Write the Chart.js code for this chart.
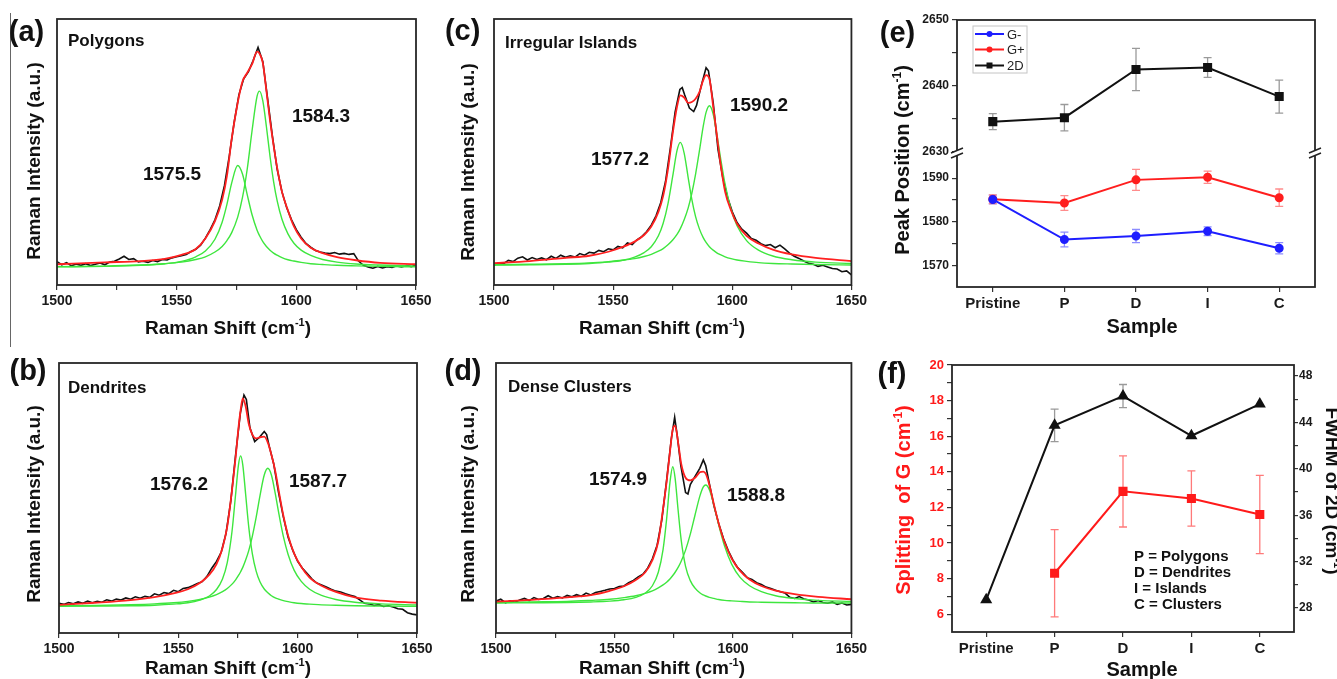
<!DOCTYPE html>
<html>
<head>
<meta charset="utf-8">
<title>Raman G and 2D band analysis</title>
<script src="https://cdn.jsdelivr.net/npm/chart.js@4.4.1/dist/chart.umd.min.js"></script>
<style>
  html, body { margin: 0; padding: 0; background: #fff; }
  #page { position: relative; width: 1337px; height: 679px; overflow: hidden; background: #fff; }
  #page canvas { position: absolute; }
  #edge { position: absolute; left: 10px; top: 13px; width: 1px; height: 334px; background: #666; }
</style>
</head>
<body>
<div id="page">
  <div id="edge"></div>
  <canvas id="chartA" width="440" height="340" style="left:0px;top:0px"></canvas>
  <canvas id="chartC" width="440" height="340" style="left:430px;top:0px"></canvas>
  <canvas id="chartB" width="440" height="339" style="left:0px;top:340px"></canvas>
  <canvas id="chartD" width="440" height="339" style="left:430px;top:340px"></canvas>
  <canvas id="chartE" width="477" height="340" style="left:860px;top:0px"></canvas>
  <canvas id="chartF" width="477" height="339" style="left:860px;top:340px"></canvas>
</div>
<script>
// ---- spectra (intensity in arbitrary units, 0..100 = bottom..top of plot) ----

// (a) Polygons
const polyFitX = [1500,1520,1535,1545,1552,1558,1562,1566,1569,1571,1573,1575.5,1577.5,1579.5,1581.5,1583.6,1584.6,1586,1587.5,1589,1590.5,1592,1594,1596.5,1599,1602,1606,1611,1617,1625,1635,1650];
const polyFit = [7.8,8.5,9.0,9.8,11.3,13.5,17.5,24.0,32.0,41.0,55.0,68.5,76.5,79.8,83.0,87.7,87.0,83.5,73.0,62.0,52.5,44.0,35.0,28.0,22.0,17.5,14.0,12.0,10.5,9.3,8.3,7.8];
const polyPeakLo = [6.8,7.0,7.4,8.0,8.9,10.6,12.8,17.2,23.6,30.3,38.4,44.9,41.7,33.9,26.4,20.6,18.6,16.3,14.5,13.1,12.0,11.2,10.3,9.5,9.0,8.5,8.0,7.7,7.4,7.2,7.0,6.8];
const polyPeakHi = [6.9,7.1,7.5,8.0,8.6,9.6,10.6,12.4,14.5,16.7,19.7,25.5,32.9,43.7,58.0,71.0,72.9,69.2,59.5,48.4,38.9,31.6,24.7,19.2,15.7,13.1,11.1,9.6,8.6,7.9,7.5,7.1];
const polyRawX = [1500,1502,1504,1506,1508,1510,1512,1514,1516,1518,1520,1522,1524,1526,1528,1530,1532,1534,1536,1538,1540,1542,1544,1546,1548,1550,1552,1554,1556,1558,1560,1562,1564,1566,1568,1570,1572,1574,1576,1578,1580,1582,1584,1586,1588,1590,1592,1594,1596,1598,1600,1602,1604,1606,1608,1610,1612,1614,1616,1618,1620,1622,1624,1626,1628,1630,1632,1634,1636,1638,1640,1642,1644,1646,1648,1650];
const polyRaw = [8.8,7.6,8.4,7.2,7.9,7.4,8.0,7.3,7.8,8.3,7.6,8.6,8.9,9.8,10.8,9.6,9.9,8.7,8.9,8.5,9.2,8.8,9.6,9.4,10.2,10.6,11.0,11.5,12.6,13.4,15.0,17.6,20.8,24.5,29.8,37.5,48.5,61.0,71.5,77.5,80.2,84.5,89.3,84.0,70.0,56.0,43.5,35.0,29.0,24.5,20.8,18.0,15.6,14.2,13.0,12.4,12.0,11.8,12.2,11.6,11.9,11.5,11.8,9.0,7.4,6.8,6.3,7.0,6.4,6.9,6.6,7.2,6.8,7.3,6.9,7.5];

// (b) Dendrites
const dendFitX = [1500,1515,1530,1540,1548,1554,1559,1563,1566,1568.5,1570.5,1572.5,1574,1575.2,1576.1,1577,1578.2,1579.5,1581,1582.6,1584.2,1586,1587.5,1589,1590.6,1592.2,1594,1596,1598.5,1601.5,1605,1610,1616,1624,1635,1650];
const dendFit = [10.4,11.2,12.2,13.3,14.7,16.2,18.5,21.6,25.5,31.5,39.5,53.0,65.0,76.0,82.5,86.9,84.0,77.5,73.5,72.1,72.5,72.7,70.5,66.0,60.0,52.0,43.5,36.0,29.5,24.5,20.5,17.5,15.2,13.2,12.0,11.2];
const dendPeakLo = [9.9,10.0,10.1,10.3,10.7,11.2,12.2,13.7,16.1,20.0,26.1,37.7,51.4,62.3,65.6,62.3,51.4,39.3,29.4,22.9,19.0,16.3,14.9,13.8,13.0,12.5,12.0,11.6,11.2,10.9,10.7,10.4,10.3,10.1,10.0,9.9];
const dendPeakHi = [10.1,10.2,10.5,10.8,11.2,11.7,12.4,13.3,14.2,15.3,16.5,18.1,19.7,21.3,22.7,24.3,27.0,30.5,35.8,42.8,50.8,58.5,61.0,58.5,51.7,43.8,35.8,29.1,23.3,19.1,16.2,13.9,12.4,11.4,10.8,10.4];
const dendRawX = [1500,1502,1504,1506,1508,1510,1512,1514,1516,1518,1520,1522,1524,1526,1528,1530,1532,1534,1536,1538,1540,1542,1544,1546,1548,1550,1552,1554,1556,1558,1560,1562,1564,1566,1568,1570,1572,1574,1576,1577.5,1578.5,1580,1582,1584,1586,1587,1588,1590,1592,1594,1596,1598,1600,1602,1604,1606,1608,1610,1612,1614,1616,1618,1620,1622,1624,1626,1628,1630,1632,1634,1636,1638,1640,1642,1644,1646,1648,1650];
const dendRaw = [11.0,10.6,11.3,10.8,11.5,11.0,11.8,11.2,11.7,11.4,12.3,11.8,12.6,12.2,13.0,12.5,13.4,12.9,13.6,13.2,14.5,14.0,15.0,14.6,15.8,15.3,16.5,16.8,17.5,18.3,19.0,21.0,24.0,26.5,30.0,37.0,49.0,66.0,81.5,88.1,86.5,76.0,70.9,72.5,74.6,73.5,69.5,62.5,52.0,43.0,35.5,30.5,26.5,24.0,22.0,20.0,18.5,17.8,17.0,16.2,15.5,15.2,14.5,14.0,13.5,12.3,11.0,10.8,10.2,10.5,9.8,10.1,9.6,9.0,8.8,7.5,7.0,6.7];

// (c) Irregular Islands
const islFitX = [1500,1515,1530,1540,1548,1554,1559,1563,1566,1569,1571,1573,1575,1576.8,1578.2,1579.8,1581.5,1583,1584.6,1586.2,1587.8,1589,1590.4,1592,1593.5,1595,1597,1599.5,1602,1606,1611,1617,1625,1635,1650];
const islFit = [8.2,9.0,10.2,11.0,12.5,14.3,16.3,18.8,22.0,27.5,33.5,43.5,57.0,67.0,71.3,70.5,68.5,68.8,70.0,72.5,77.0,78.9,77.5,67.0,56.5,46.0,35.0,28.0,23.0,18.5,15.6,13.3,11.5,10.2,9.0];
const islPeakLo = [7.5,7.6,7.8,8.1,8.6,9.3,10.5,12.2,14.4,18.5,23.2,30.5,40.9,50.5,53.6,49.6,40.3,32.3,25.7,21.1,17.8,16.0,14.4,13.1,12.1,11.4,10.6,9.9,9.4,8.9,8.4,8.1,7.9,7.7,7.5];
const islPeakHi = [7.6,7.8,8.0,8.3,8.8,9.3,9.9,10.7,11.5,12.7,13.7,15.1,16.9,19.0,21.2,24.5,29.0,34.4,41.7,50.4,59.6,64.9,67.4,64.2,56.8,48.2,37.8,28.4,22.3,16.7,13.1,10.9,9.5,8.6,8.1];
const islRawX = [1500,1502,1504,1506,1508,1510,1512,1514,1516,1518,1520,1522,1524,1526,1528,1530,1532,1534,1536,1538,1540,1542,1544,1546,1548,1550,1552,1554,1556,1558,1560,1562,1564,1566,1568,1570,1572,1574,1576,1578,1579,1580,1582,1583.8,1585,1587,1589,1590,1592,1594,1596,1598,1600,1602,1604,1606,1608,1610,1612,1614,1616,1618,1620,1622,1624,1626,1628,1630,1632,1634,1636,1638,1640,1642,1644,1646,1648,1650];
const islRaw = [7.5,8.3,8.0,9.3,8.8,10.1,10.6,9.4,10.3,9.6,10.2,9.5,10.8,10.0,11.2,10.4,11.0,10.5,11.8,11.2,12.3,12.0,13.0,12.5,13.6,13.2,14.5,14.0,15.8,15.2,17.0,18.2,20.0,22.5,26.0,31.0,39.0,51.5,65.0,73.5,74.2,71.5,66.5,65.2,67.5,75.0,81.7,80.5,68.5,51.0,40.5,33.0,27.5,23.5,21.0,19.5,17.5,16.8,15.5,14.8,15.2,14.0,15.0,13.6,12.0,10.8,10.0,9.0,8.2,7.8,7.0,7.4,6.8,6.2,6.0,5.0,5.3,3.8];

// (d) Dense Clusters
const clusFitX = [1500,1515,1530,1540,1548,1554,1559,1563,1566,1568.5,1570.5,1572,1573.4,1574.6,1575.6,1576.8,1578.2,1580,1582,1584,1586,1587.5,1588.5,1590,1592,1594,1596.5,1599.5,1603,1607,1612,1618,1626,1636,1650];
const clusFit = [11.6,12.3,13.2,14.0,15.6,17.3,19.6,22.5,27.0,34.0,46.0,56.0,67.0,75.5,76.8,71.0,62.5,57.5,56.5,57.5,59.5,59.8,59.0,55.0,47.5,40.5,33.5,27.5,23.0,19.8,17.4,15.7,14.4,13.4,12.5];
const clusPeakLo = [11.1,11.2,11.3,11.5,11.8,12.3,13.2,14.8,17.5,22.5,30.9,42.2,55.7,61.6,57.3,46.0,34.1,24.7,19.4,16.6,14.9,14.1,13.7,13.2,12.8,12.4,12.1,11.9,11.7,11.5,11.4,11.3,11.2,11.1,11.1];
const clusPeakHi = [11.3,11.5,11.7,12.1,12.5,13.1,13.8,14.7,15.6,16.7,17.8,18.8,20.0,21.3,22.5,24.2,26.7,30.7,36.6,43.7,50.6,54.1,54.8,53.2,47.3,40.0,32.1,25.4,20.6,17.5,15.3,13.8,12.8,12.1,11.7];
const clusRawX = [1500,1502,1504,1506,1508,1510,1512,1514,1516,1518,1520,1522,1524,1526,1528,1530,1532,1534,1536,1538,1540,1542,1544,1546,1548,1550,1552,1554,1556,1558,1560,1562,1564,1566,1568,1570,1572,1574,1575.4,1576.5,1578,1580,1581,1582,1584,1586,1587.5,1588.5,1590,1592,1594,1596,1598,1600,1602,1604,1606,1608,1610,1612,1614,1616,1618,1620,1622,1624,1626,1628,1630,1632,1634,1636,1638,1640,1642,1644,1646,1648,1650];
const clusRaw = [11.8,12.5,11.2,11.9,11.4,12.2,12.8,12.0,13.1,12.4,12.8,13.8,12.9,13.5,13.0,13.9,13.4,14.2,13.6,14.8,14.1,15.0,15.4,15.8,16.3,16.5,17.2,17.4,18.6,19.5,20.8,21.8,24.0,27.5,32.5,42.0,56.5,72.0,79.9,73.0,62.0,52.0,51.5,55.0,58.0,61.0,64.1,62.0,55.5,47.0,40.5,35.0,30.5,27.0,24.2,22.5,20.5,19.8,18.6,18.0,17.0,16.5,15.8,15.3,14.8,13.2,12.8,13.5,12.6,12.2,11.5,12.0,11.3,11.0,11.5,10.6,11.1,10.4,10.6];

// ---- (e) peak positions, (f) splitting / FWHM ----
const samples = ['Pristine', 'P', 'D', 'I', 'C'];
const gMinus = [1585.1, 1575.9, 1576.7, 1577.8, 1573.9];
const gMinusErr = [1.0, 1.7, 1.5, 1.0, 1.3];
const gPlus = [1585.15, 1584.3, 1589.6, 1590.2, 1585.5];
const gPlusErr = [1.0, 1.7, 2.4, 1.4, 2.0];
const twoD = [2634.6, 2635.2, 2642.5, 2642.8, 2638.4];
const twoDErr = [1.2, 2.0, 3.2, 1.5, 2.5];
const highTicks = [2630, 2635, 2640, 2645, 2650];
const lowTicks = [1570, 1575, 1580, 1585, 1590];

const splitG = [null, 8.3, 12.9, 12.5, 11.6];
const splitErr = [0, 2.45, 2.0, 1.55, 2.2];
const fwhm2D = [28.7, 43.75, 46.27, 42.85, 45.58];
const fwhmErr = [0, 1.4, 1.0, 0, 0];
const splitTicks = [6,7,8,9,10,11,12,13,14,15,16,17,18,19,20];
const fwhmTicks = [28,30,32,34,36,38,40,42,44,46,48];
const sampleKey = ['P = Polygons', 'D = Dendrites', 'I = Islands', 'C = Clusters'];

const FONT = '"Liberation Sans", Arial, Helvetica, sans-serif';
Chart.defaults.font.family = FONT;
Chart.defaults.color = '#1a1a1a';

const RED = '#ff2020';
const GREEN = '#3ee63e';

// text with ^{...} superscripts
function drawText(ctx, n) {
  const size = n.size || 14;
  const weight = n.weight || 'bold';
  const parts = n.text.split(/\^\{(.*?)\}/);
  ctx.save();
  ctx.translate(n.x, n.y);
  if (n.rot) ctx.rotate(n.rot * Math.PI / 180);
  ctx.fillStyle = n.color || '#111';
  ctx.textAlign = 'left';
  ctx.textBaseline = 'alphabetic';
  const fonts = parts.map((p, i) => weight + ' ' + (i % 2 ? Math.round(size * 0.6) : size) + 'px ' + FONT);
  const widths = parts.map((p, i) => { ctx.font = fonts[i]; return ctx.measureText(p).width; });
  const total = widths.reduce((s, w) => s + w, 0);
  let cx = n.align === 'left' ? 0 : -total / 2;
  const base = size * 0.36;
  parts.forEach((p, i) => {
    ctx.font = fonts[i];
    ctx.fillText(p, cx, i % 2 ? base - size * 0.42 : base);
    cx += widths[i];
  });
  ctx.restore();
}

const notesPlugin = {
  id: 'notes',
  afterDraw(chart, args, opts) {
    (opts.items || []).forEach(n => drawText(chart.ctx, n));
  }
};

const framePlugin = {
  id: 'frame',
  afterDraw(chart) {
    const a = chart.chartArea;
    const ctx = chart.ctx;
    ctx.save();
    ctx.strokeStyle = '#262626';
    ctx.lineWidth = 1.8;
    ctx.strokeRect(a.left, a.top, a.right - a.left, a.bottom - a.top);
    ctx.restore();
  }
};

const errorBarsPlugin = {
  id: 'errorBars',
  beforeDatasetsDraw(chart) {
    const ctx = chart.ctx;
    chart.data.datasets.forEach((ds, i) => {
      if (!ds.errors) return;
      const meta = chart.getDatasetMeta(i);
      const yScale = chart.scales[meta.yAxisID];
      ctx.save();
      ctx.strokeStyle = ds.errorColor;
      ctx.lineWidth = 1.3;
      meta.data.forEach((pt, j) => {
        const v = ds.data[j], e = ds.errors[j];
        if (v == null || !e) return;
        const y1 = yScale.getPixelForValue(v - e);
        const y2 = yScale.getPixelForValue(v + e);
        ctx.beginPath();
        ctx.moveTo(pt.x, y1); ctx.lineTo(pt.x, y2);
        ctx.moveTo(pt.x - 4, y1); ctx.lineTo(pt.x + 4, y1);
        ctx.moveTo(pt.x - 4, y2); ctx.lineTo(pt.x + 4, y2);
        ctx.stroke();
      });
      ctx.restore();
    });
  }
};

const breakPlugin = {
  id: 'axisBreak',
  afterDraw(chart, args, opts) {
    if (!opts.scale) return;
    const y = chart.scales[opts.scale].bottom;
    const a = chart.chartArea;
    const ctx = chart.ctx;
    ctx.save();
    [a.left, a.right].forEach(x => {
      ctx.fillStyle = '#fff';
      ctx.fillRect(x - 3, y - 1, 6, 4);
      ctx.strokeStyle = '#222';
      ctx.lineWidth = 1.5;
      ctx.beginPath();
      ctx.moveTo(x - 6, y + 1); ctx.lineTo(x + 6, y - 4);
      ctx.moveTo(x - 6, y + 6); ctx.lineTo(x + 6, y + 1);
      ctx.stroke();
    });
    ctx.restore();
  }
};

const lineLegendPlugin = {
  id: 'lineLegend',
  afterDraw(chart, args, o) {
    if (!o.rows) return;
    const ctx = chart.ctx;
    ctx.save();
    ctx.strokeStyle = '#c4c4c4';
    ctx.lineWidth = 1;
    ctx.strokeRect(o.x, o.y, o.w, o.h);
    chart.data.datasets.forEach((ds, i) => {
      const y = o.rows[i];
      ctx.strokeStyle = ds.borderColor;
      ctx.fillStyle = ds.borderColor;
      ctx.lineWidth = 2;
      ctx.beginPath();
      ctx.moveTo(o.x0, y); ctx.lineTo(o.x1, y);
      ctx.stroke();
      const mx = (o.x0 + o.x1) / 2;
      ctx.beginPath();
      if (ds.pointStyle === 'rect') ctx.rect(mx - 3, y - 3, 6, 6);
      else ctx.arc(mx, y, 3, 0, Math.PI * 2);
      ctx.fill();
      ctx.font = '13px ' + FONT;
      ctx.textBaseline = 'middle';
      ctx.textAlign = 'left';
      ctx.fillStyle = '#222';
      ctx.fillText(ds.label, o.tx, y + 1);
    });
    ctx.restore();
  }
};

function pts(xs, ys) {
  return xs.map((x, i) => ({x: x, y: ys[i]}));
}

function spectrum(id, p) {
  return new Chart(document.getElementById(id), {
    type: 'line',
    data: {
      datasets: [
        {label: 'fit', data: pts(p.fitX, p.fit), borderColor: RED, borderWidth: 1.8, cubicInterpolationMode: 'monotone'},
        {label: 'peak 1', data: pts(p.fitX, p.lo), borderColor: GREEN, borderWidth: 1.4, cubicInterpolationMode: 'monotone'},
        {label: 'peak 2', data: pts(p.fitX, p.hi), borderColor: GREEN, borderWidth: 1.4, cubicInterpolationMode: 'monotone'},
        {label: 'raw', data: pts(p.rawX, p.raw), borderColor: '#111', borderWidth: 1.6, tension: 0}
      ]
    },
    options: {
      responsive: false,
      animation: false,
      devicePixelRatio: 1,
      layout: {padding: {left: p.padL, top: p.padT, right: p.padR, bottom: 0}},
      elements: {point: {radius: 0}},
      plugins: {
        legend: {display: false},
        tooltip: {enabled: false},
        notes: {items: p.notes}
      },
      scales: {
        x: {
          type: 'linear', min: 1500, max: 1650,
          ticks: {stepSize: 25, autoSkip: false, maxRotation: 0, padding: 3,
                  callback: v => (v % 50 === 0 ? String(v) : ''),
                  font: {size: 14, weight: 'bold'}, color: '#1a1a1a'},
          grid: {drawOnChartArea: false, tickLength: 5, color: '#333', lineWidth: 1.2},
          border: {display: false},
          afterFit: s => { s.height = p.xH; }
        },
        y: {display: false, min: 0, max: 100}
      }
    },
    plugins: [framePlugin, notesPlugin]
  });
}

spectrum('chartA', {
  fitX: polyFitX, fit: polyFit, lo: polyPeakLo, hi: polyPeakHi, rawX: polyRawX, raw: polyRaw,
  padL: 57, padT: 19, padR: 24, xH: 55,
  notes: [
    {text: '(a)', x: 26.5, y: 31, size: 29},
    {text: 'Polygons', x: 68, y: 40, size: 17, align: 'left'},
    {text: '1575.5', x: 172, y: 173, size: 19},
    {text: '1584.3', x: 321, y: 115, size: 19},
    {text: 'Raman Intensity (a.u.)', x: 33, y: 161, size: 19, rot: -90},
    {text: 'Raman Shift (cm^{-1})', x: 228, y: 327, size: 19}
  ]
});

spectrum('chartC', {
  fitX: islFitX, fit: islFit, lo: islPeakLo, hi: islPeakHi, rawX: islRawX, raw: islRaw,
  padL: 64, padT: 19, padR: 17, xH: 55,
  notes: [
    {text: '(c)', x: 32.6, y: 30, size: 29},
    {text: 'Irregular Islands', x: 75, y: 42, size: 17, align: 'left'},
    {text: '1577.2', x: 190, y: 158, size: 19},
    {text: '1590.2', x: 329, y: 104, size: 19},
    {text: 'Raman Intensity (a.u.)', x: 36.7, y: 162, size: 19, rot: -90},
    {text: 'Raman Shift (cm^{-1})', x: 232, y: 327, size: 19}
  ]
});

spectrum('chartB', {
  fitX: dendFitX, fit: dendFit, lo: dendPeakLo, hi: dendPeakHi, rawX: dendRawX, raw: dendRaw,
  padL: 59, padT: 23, padR: 23, xH: 46,
  notes: [
    {text: '(b)', x: 28, y: 30, size: 29},
    {text: 'Dendrites', x: 68, y: 47, size: 17, align: 'left'},
    {text: '1576.2', x: 179, y: 143, size: 19},
    {text: '1587.7', x: 318, y: 140, size: 19},
    {text: 'Raman Intensity (a.u.)', x: 33, y: 164, size: 19, rot: -90},
    {text: 'Raman Shift (cm^{-1})', x: 228, y: 327, size: 19}
  ]
});

spectrum('chartD', {
  fitX: clusFitX, fit: clusFit, lo: clusPeakLo, hi: clusPeakHi, rawX: clusRawX, raw: clusRaw,
  padL: 66, padT: 23, padR: 16, xH: 46,
  notes: [
    {text: '(d)', x: 33, y: 30, size: 29},
    {text: 'Dense Clusters', x: 78, y: 46, size: 17, align: 'left'},
    {text: '1574.9', x: 188, y: 138, size: 19},
    {text: '1588.8', x: 326, y: 154, size: 19},
    {text: 'Raman Intensity (a.u.)', x: 36.7, y: 164, size: 19, rot: -90},
    {text: 'Raman Shift (cm^{-1})', x: 232, y: 327, size: 19}
  ]
});

const catAxis = (h) => ({
  type: 'category', offset: true,
  grid: {drawOnChartArea: false, tickLength: 5, color: '#333', lineWidth: 1.2, offset: false},
  border: {display: false},
  ticks: {font: {size: 15, weight: 'bold'}, color: '#1a1a1a', padding: 3, maxRotation: 0},
  afterFit: s => { s.height = h; }
});

const valueAxis = (extra) => Object.assign({
  type: 'linear',
  grid: {drawOnChartArea: false, tickLength: 5, color: '#333', lineWidth: 1.2},
  border: {display: false}
}, extra);

// (e) peak positions with broken axis
new Chart(document.getElementById('chartE'), {
  type: 'line',
  data: {
    labels: samples,
    datasets: [
      {label: 'G-', data: gMinus, errors: gMinusErr, errorColor: '#8c8cff', yAxisID: 'yLow',
       borderColor: '#1e1eff', backgroundColor: '#1e1eff', pointStyle: 'circle', pointRadius: 3.5, borderWidth: 2},
      {label: 'G+', data: gPlus, errors: gPlusErr, errorColor: '#ff8c8c', yAxisID: 'yLow',
       borderColor: '#ff1e1e', backgroundColor: '#ff1e1e', pointStyle: 'circle', pointRadius: 3.5, borderWidth: 2},
      {label: '2D', data: twoD, errors: twoDErr, errorColor: '#9a9a9a', yAxisID: 'yHigh',
       borderColor: '#111', backgroundColor: '#111', pointStyle: 'rect', pointRadius: 5, borderWidth: 2}
    ]
  },
  options: {
    responsive: false,
    animation: false,
    devicePixelRatio: 1,
    layout: {padding: {left: 0, top: 20, right: 22, bottom: 0}},
    plugins: {
      legend: {display: false},
      tooltip: {enabled: false},
      axisBreak: {scale: 'yHigh'},
      lineLegend: {x: 113, y: 26, w: 54, h: 47, rows: [34, 49.5, 65.5], x0: 115, x1: 144, tx: 147},
      notes: {items: [
        {text: '(e)', x: 37.5, y: 32, size: 29},
        {text: 'Peak Position (cm^{-1})', x: 42, y: 160, size: 20, rot: -90},
        {text: 'Sample', x: 282, y: 326, size: 20}
      ]}
    },
    scales: {
      x: catAxis(53),
      yLow: valueAxis({
        position: 'left', stack: 'peak', stackWeight: 135, min: 1565, max: 1596,
        afterBuildTicks: s => { s.ticks = lowTicks.map(v => ({value: v})); },
        ticks: {callback: v => (v % 10 === 0 ? String(v) : ''), font: {size: 12, weight: 'bold'}, color: '#1a1a1a', padding: 3},
        afterFit: s => { s.width = 97; }
      }),
      yHigh: valueAxis({
        position: 'left', stack: 'peak', stackWeight: 132, min: 2630, max: 2650,
        afterBuildTicks: s => { s.ticks = highTicks.map(v => ({value: v})); },
        ticks: {callback: v => (v % 10 === 0 ? String(v) : ''), font: {size: 12, weight: 'bold'}, color: '#1a1a1a', padding: 3},
        afterFit: s => { s.width = 97; }
      })
    }
  },
  plugins: [errorBarsPlugin, framePlugin, breakPlugin, lineLegendPlugin, notesPlugin]
});

// (f) G splitting and 2D FWHM
new Chart(document.getElementById('chartF'), {
  type: 'line',
  data: {
    labels: samples,
    datasets: [
      {label: 'Splitting of G', data: splitG, errors: splitErr, errorColor: '#ff7a7a', yAxisID: 'yL',
       borderColor: '#ff1a1a', backgroundColor: '#ff1a1a', pointStyle: 'rect', pointRadius: 5, borderWidth: 2},
      {label: 'FWHM of 2D', data: fwhm2D, errors: fwhmErr, errorColor: '#9a9a9a', yAxisID: 'yR',
       borderColor: '#111', backgroundColor: '#111', pointStyle: 'triangle', pointRadius: 5, borderWidth: 2}
    ]
  },
  options: {
    responsive: false,
    animation: false,
    devicePixelRatio: 1,
    layout: {padding: {left: 0, top: 25, right: 0, bottom: 0}},
    plugins: {
      legend: {display: false},
      tooltip: {enabled: false},
      notes: {items: [
        {text: '(f)', x: 32, y: 33, size: 29},
        {text: 'Splitting  of G (cm^{-1})', x: 43, y: 160, size: 20, rot: -90, color: '#ff1a1a'},
        {text: 'FWHM of 2D (cm^{-1})', x: 473, y: 151, size: 19, rot: 90},
        {text: 'Sample', x: 282, y: 329, size: 20},
        {text: sampleKey[0], x: 274, y: 216, size: 15, align: 'left'},
        {text: sampleKey[1], x: 274, y: 231.7, size: 15, align: 'left'},
        {text: sampleKey[2], x: 274, y: 247.3, size: 15, align: 'left'},
        {text: sampleKey[3], x: 274, y: 263.3, size: 15, align: 'left'}
      ]}
    },
    scales: {
      x: catAxis(47),
      yL: valueAxis({
        position: 'left', min: 5, max: 20,
        afterBuildTicks: s => { s.ticks = splitTicks.map(v => ({value: v})); },
        ticks: {callback: v => (v % 2 === 0 ? String(v) : ''), font: {size: 13, weight: 'bold'}, color: '#ff1a1a', padding: 3},
        afterFit: s => { s.width = 92; }
      }),
      yR: valueAxis({
        position: 'right', min: 25.93, max: 48.95,
        grid: {drawOnChartArea: false, tickLength: 4, color: '#333', lineWidth: 1.2},
        afterBuildTicks: s => { s.ticks = fwhmTicks.map(v => ({value: v})); },
        ticks: {callback: v => (v % 4 === 0 ? String(v) : ''), font: {size: 12, weight: 'bold'}, color: '#1a1a1a', padding: 1},
        afterFit: s => { s.width = 43; }
      })
    }
  },
  plugins: [errorBarsPlugin, framePlugin, notesPlugin]
});
</script>
</body>
</html>
